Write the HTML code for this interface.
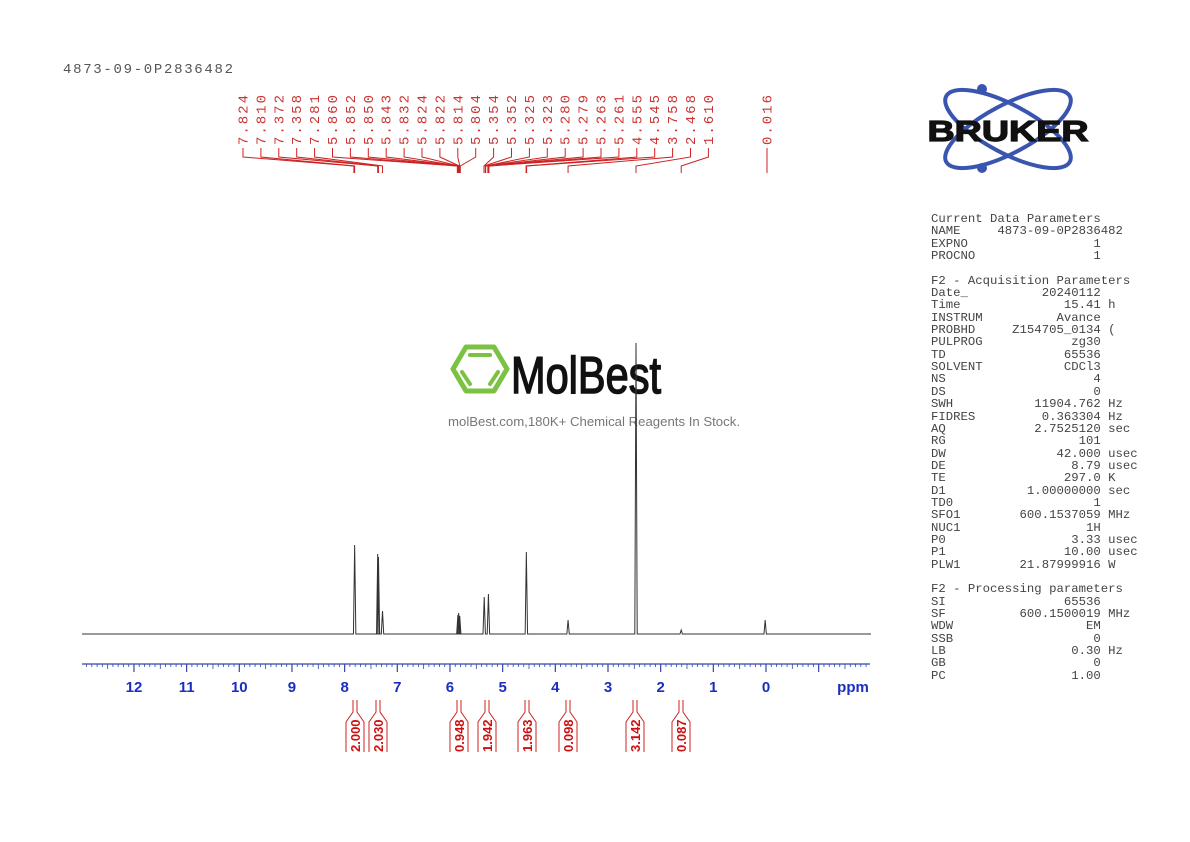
<!DOCTYPE html>
<html><head><meta charset="utf-8">
<style>
html,body{margin:0;padding:0;background:#fff;}
body{width:1190px;height:842px;position:relative;overflow:hidden;font-family:"Liberation Sans",sans-serif;}
.mono{font-family:"Liberation Mono",monospace;}
#params{position:absolute;left:931px;top:213px;font-family:"Liberation Mono",monospace;font-size:12.3px;color:#444;line-height:12.35px;white-space:pre;}
</style></head><body>
<svg id="s" width="1190" height="842" style="position:absolute;left:0;top:0">
 <text x="63" y="73" font-family="Liberation Mono" font-size="14" fill="#555" textLength="170" lengthAdjust="spacing">4873-09-0P2836482</text>
 <g fill="none" stroke="#3a55b0" stroke-width="4">
  <ellipse cx="1008" cy="129" rx="70" ry="24" transform="rotate(28 1008 129)"/>
  <ellipse cx="1008" cy="129" rx="70" ry="24" transform="rotate(-28 1008 129)"/>
 </g>
 <circle cx="982" cy="89" r="5" fill="#3a55b0"/>
 <circle cx="982" cy="168" r="5" fill="#3a55b0"/>
 <text x="1008" y="141" text-anchor="middle" font-family="Liberation Sans" font-weight="bold" font-size="29" fill="#111" stroke="#111" stroke-width="1.2" textLength="161" lengthAdjust="spacingAndGlyphs">BRUKER</text>
 <g fill="none" stroke="#7cc242" stroke-width="5" stroke-linejoin="round">
  <polygon points="466,347 494,347 507,369 494,391 466,391 453,369"/>
 </g>
 <g stroke="#7cc242" stroke-width="4" stroke-linecap="round">
  <line x1="470" y1="355" x2="490" y2="355"/>
  <line x1="462" y1="372" x2="470" y2="384"/>
  <line x1="498" y1="372" x2="490" y2="384"/>
 </g>
 <text x="511" y="393" font-family="Liberation Sans" font-size="52" fill="#111" stroke="#111" stroke-width="1.5" textLength="150" lengthAdjust="spacingAndGlyphs">MolBest</text>
 <text x="448" y="426" font-family="Liberation Sans" font-size="13" fill="#777" textLength="292" lengthAdjust="spacingAndGlyphs">molBest.com,180K+ Chemical Reagents In Stock.</text>
 <g id="g"></g>
</svg>
<div id="params"></div>
<script>
var NS="http://www.w3.org/2000/svg",g=document.getElementById('g');
function el(t,a,txt){var e=document.createElementNS(NS,t);for(var k in a)e.setAttribute(k,a[k]);if(txt!=null)e.textContent=txt;g.appendChild(e);return e;}
function X(p){return 766-52.67*p;}
el('line',{x1:82,y1:664,x2:870,y2:664,stroke:'#3344aa','stroke-width':1.2});
for(var i=-19;i<=131;i++){var p=i/10,x=X(p);if(x<82||x>870)continue;var maj=(i%10==0),half=(i%5==0);
 el('line',{x1:x,y1:664,x2:x,y2:maj?672:(half?669:667),stroke:'#3344aa','stroke-width':maj?1.2:0.8});}
for(var p=0;p<=12;p++)el('text',{x:X(p),y:692,'text-anchor':'middle','font-family':'Liberation Sans','font-weight':'bold','font-size':15,fill:'#1a2ec0'},String(p));
el('text',{x:853,y:692,'text-anchor':'middle','font-family':'Liberation Sans','font-weight':'bold','font-size':15,fill:'#1a2ec0'},'ppm');
var base=634,pk=[[7.81,545,1.2],[7.372,554,1.3],[7.358,557,1],[7.281,611,1],[5.85,615,1],[5.835,613,1.2],[5.815,616,1],[5.35,597,1],[5.27,594,1.2],[4.55,552,1.2],[3.758,620,1],[2.468,343,1.2],[1.61,630,1],[0.016,620,1]];
var d='M82 '+base;pk.sort(function(a,b){return b[0]-a[0];});
pk.forEach(function(q){var x=X(q[0]);d+=' L'+(x-1.2)+' '+base+' L'+x+' '+q[1]+' L'+(x+1.2)+' '+base;});
d+=' L871 '+base;
el('path',{d:d,fill:'none',stroke:'#333','stroke-width':1});
var labs=['7.824','7.810','7.372','7.358','7.281','5.860','5.852','5.850','5.843','5.832','5.824','5.822','5.814','5.804','5.354','5.352','5.325','5.323','5.280','5.279','5.263','5.261','4.555','4.545','3.758','2.468','1.610'];
function lab(x,t){el('text',{x:0,y:0,transform:'translate('+(x+4.5)+',145) rotate(-90)','font-family':'Liberation Mono','font-size':14,fill:'#cc3333',textLength:50,lengthAdjust:'spacing'},t);}
labs.forEach(function(t,i){var x=243+i*17.9;lab(x,t);
 var px=X(parseFloat(t));
 el('polyline',{points:x+',148 '+x+',157 '+px+',166 '+px+',173',fill:'none',stroke:'#cc2222','stroke-width':1});});
lab(767,'0.016');
el('line',{x1:767,y1:148,x2:767,y2:173,stroke:'#cc2222','stroke-width':1});
[[355,'2.000'],[378,'2.030'],[459,'0.948'],[487,'1.942'],[527,'1.963'],[568,'0.098'],[635,'3.142'],[681,'0.087']].forEach(function(q){var x=q[0];
 el('path',{d:'M'+(x-2)+' 700 V712 L'+(x-9)+' 722 V752 M'+(x+2)+' 700 V712 L'+(x+9)+' 722 V752',fill:'none',stroke:'#cc2222','stroke-width':1});
 el('text',{x:0,y:0,transform:'translate('+(x+5)+',752) rotate(-90)','font-family':'Liberation Sans','font-weight':'bold','font-size':13,fill:'#cc1111'},q[1]);});
var L=[['Current Data Parameters'],['NAME','4873-09-0P2836482',''],['EXPNO','1',''],['PROCNO','1',''],[''],['F2 - Acquisition Parameters'],
['Date_','20240112',''],['Time','15.41','h'],['INSTRUM','Avance',''],['PROBHD','Z154705_0134','('],['PULPROG','zg30',''],['TD','65536',''],['SOLVENT','CDCl3',''],['NS','4',''],['DS','0',''],['SWH','11904.762','Hz'],['FIDRES','0.363304','Hz'],['AQ','2.7525120','sec'],['RG','101',''],['DW','42.000','usec'],['DE','8.79','usec'],['TE','297.0','K'],['D1','1.00000000','sec'],['TD0','1',''],['SFO1','600.1537059','MHz'],['NUC1','1H',''],['P0','3.33','usec'],['P1','10.00','usec'],['PLW1','21.87999916','W'],[''],['F2 - Processing parameters'],['SI','65536',''],['SF','600.1500019','MHz'],['WDW','EM',''],['SSB','0',''],['LB','0.30','Hz'],['GB','0',''],['PC','1.00','']];
var out=L.map(function(r){if(r.length==1)return r[0];var s=r[0];var v=r[1];if(r[0]=='NAME')return 'NAME     '+v;
 while(s.length+v.length<23)s+=' ';return s+v+(r[2]?' '+r[2]:'');}).join('\n');
document.getElementById('params').textContent=out;
</script>
</body></html>
